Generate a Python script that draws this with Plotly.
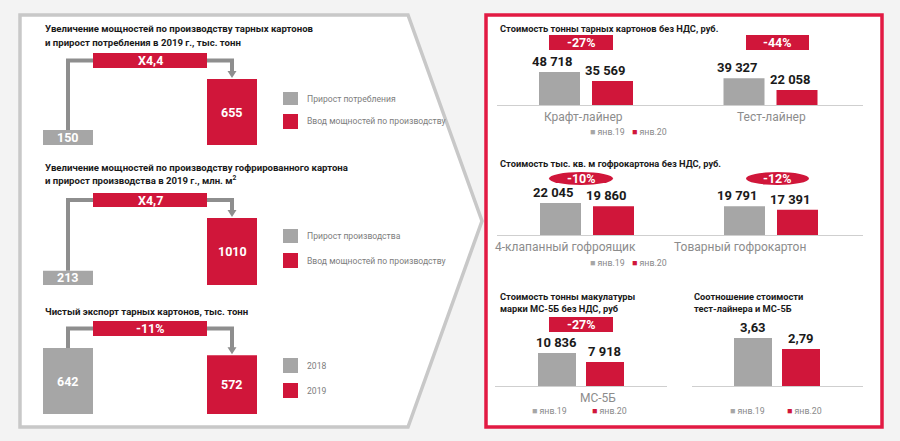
import plotly.graph_objects as go

# ---------------- data ----------------
cap_labels = ["Прирост потребления", "Ввод мощностей по производству"]
cap_vals = [150, 655]
cap_ratio = "X4,4"

corr_labels = ["Прирост производства", "Ввод мощностей по производству"]
corr_vals = [213, 1010]
corr_ratio = "X4,7"

exp_labels = ["2018", "2019"]
exp_vals = [642, 572]
exp_change = "-11%"

periods = ["янв.19", "янв.20"]

board_cats = ["Крафт-лайнер", "Тест-лайнер"]
board_jan19 = [48718, 39327]
board_jan20 = [35569, 22058]
board_change = ["-27%", "-44%"]

box_cats = ["4-клапанный гофроящик", "Товарный гофрокартон"]
box_jan19 = [22045, 19791]
box_jan20 = [19860, 17391]
box_change = ["-10%", "-12%"]

waste_cats = ["МС-5Б"]
waste_jan19 = [10836]
waste_jan20 = [7918]
waste_change = ["-27%"]

ratio_jan19 = [3.63]
ratio_jan20 = [2.79]

# ---------------- helpers ----------------
W, H = 900, 441
def PX(x): return x / W
def PY(y): return 1 - y / H

FONT = "Roboto, Liberation Sans, sans-serif"
GRAY = "#a6a6a6"
RED = "#d0163a"
LINE_GRAY = "#8e8e8e"
TXT = "#1a1a1a"
LEG_TXT = "#7d7d7d"

fig = go.Figure()
shapes = []
annots = []
axes = {}
count = [0]

def fmt(v, sep=" "):
    if isinstance(v, float):
        return f"{v:.2f}".replace(".", ",")
    return f"{v:,}".replace(",", sep)

def new_axes(dx0, dx1, c0, unit, base, top, vmax, baseline=False):
    count[0] += 1
    k = count[0]
    s = "" if k == 1 else str(k)
    axes[f"xaxis{s}"] = dict(domain=[PX(dx0), PX(dx1)],
                            range=[(dx0 - c0) / unit, (dx1 - c0) / unit],
                            anchor=f"y{s}", showgrid=False, zeroline=False,
                            showticklabels=False, ticks="", fixedrange=True,
                            showline=baseline, linecolor="#cfcfcf", linewidth=1,
                            visible=baseline)
    axes[f"yaxis{s}"] = dict(domain=[PY(base), PY(top)], range=[0, vmax],
                            anchor=f"x{s}", visible=False, fixedrange=True)
    return f"x{s}", f"y{s}"

def text(x, y, t, size, color=TXT, bold=False, xanchor="left", yanchor="middle",
         xref="paper", yref="paper", xshift=0, yshift=0):
    annots.append(dict(x=x, y=y, xref=xref, yref=yref, text=t, showarrow=False,
                       xanchor=xanchor, yanchor=yanchor, xshift=xshift, yshift=yshift,
                       font=dict(family=FONT, size=size, color=color,
                                 weight="bold" if bold else "normal")))

def rect(x0, y0, x1, y1, fill, line=None, lw=0, layer="above", kind="rect"):
    shapes.append(dict(type=kind, xref="paper", yref="paper",
                       x0=PX(x0), x1=PX(x1), y0=PY(y0), y1=PY(y1),
                       fillcolor=fill, line=dict(color=line or fill, width=lw),
                       layer=layer))

# ---------------- frames ----------------
poly = [(20, 15), (408, 15), (482, 221), (408, 427), (20, 427)]
path = "M " + " L ".join(f"{PX(x):.5f},{PY(y):.5f}" for x, y in poly) + " Z"
shapes.append(dict(type="path", xref="paper", yref="paper", path=path,
                   fillcolor="white", line=dict(color="#c8c8c8", width=3.5),
                   layer="below"))
rect(486, 15, 882, 427, "white", "#e21a43", 3.5, layer="below")

# ---------------- left panel ----------------
left_specs = [
    dict(titles=["Увеличение мощностей по производству тарных картонов",
                 "и прирост потребления в 2019 г., тыс. тонн"], ty=[28, 42],
         vals=cap_vals, labels=cap_labels, ratio=cap_ratio, box=(53, 68),
         base=145, top=79, leg=[(92, 105), (114, 129)]),
    dict(titles=["Увеличение мощностей по производству гофрированного картона",
                 "и прирост производства в 2019 г., млн. м<sup>2</sup>"], ty=[167, 180],
         vals=corr_vals, labels=corr_labels, ratio=corr_ratio, box=(193, 207),
         base=285, top=218, leg=[(229, 243), (253, 268)]),
    dict(titles=["Чистый экспорт тарных картонов, тыс. тонн"], ty=[311],
         vals=exp_vals, labels=exp_labels, ratio=exp_change, box=(321, 336),
         base=414, top=348, leg=[(358, 373), (383, 398)]),
]

for sp in left_specs:
    for t, y in zip(sp["titles"], sp["ty"]):
        text(PX(43), PY(y), t, 9.6, bold=True)
    vals = sp["vals"]
    vmax = max(vals)
    c0, c1 = 68, 232
    unit = c1 - c0
    xa, ya = new_axes(43, 257, c0, unit, sp["base"], sp["top"], vmax)
    fig.add_trace(go.Bar(x=[0, 1], y=vals, width=50 / unit,
                         marker=dict(color=[GRAY, RED], line=dict(width=0)),
                         xaxis=xa, yaxis=ya, showlegend=False, hoverinfo="skip"))
    for i, v in enumerate(vals):
        text(i, v / 2, fmt(v, ""), 12.5, color="white", bold=True, xanchor="center",
             xref=xa, yref=ya)
    # connector
    scale = (sp["base"] - sp["top"]) / vmax
    gtop = sp["base"] - vals[0] * scale
    rtop = sp["base"] - vals[1] * scale
    b0, b1 = sp["box"]
    cy = (b0 + b1) / 2
    p1 = f"M {PX(68):.5f},{PY(gtop):.5f} L {PX(68):.5f},{PY(cy):.5f} L {PX(95):.5f},{PY(cy):.5f}"
    p2 = f"M {PX(205):.5f},{PY(cy):.5f} L {PX(232):.5f},{PY(cy):.5f} L {PX(232):.5f},{PY(rtop - 7):.5f}"
    for p in (p1, p2):
        shapes.append(dict(type="path", xref="paper", yref="paper", path=p,
                           line=dict(color=LINE_GRAY, width=4), layer="above"))
    tri = (f"M {PX(227.5):.5f},{PY(rtop - 8):.5f} L {PX(236.5):.5f},{PY(rtop - 8):.5f} "
           f"L {PX(232):.5f},{PY(rtop - 1):.5f} Z")
    shapes.append(dict(type="path", xref="paper", yref="paper", path=tri,
                       fillcolor=LINE_GRAY, line=dict(width=0), layer="above"))
    rect(93, b0, 207, b1, RED)
    text(PX(150), PY(cy), sp["ratio"], 12.5, color="white", bold=True, xanchor="center")
    # legend
    for (l0, l1), col, lab in zip(sp["leg"], [GRAY, RED], sp["labels"]):
        rect(283, l0, 298, l1, col)
        text(PX(305), PY((l0 + l1) / 2), lab, 8.6, color=LEG_TXT)

# ---------------- right panel ----------------
def legend_items(y, xs):
    for x, col, lab in zip(xs, [GRAY, RED], periods):
        text(PX(x), PY(y), f"<span style='color:{col}'>■</span> {lab}", 8.8,
             color="#8a8a8a")

right_specs = [
    dict(titles=["Стоимость тонны тарных картонов без НДС, руб."], ty=[28], tx=498,
         cats=board_cats, a=board_jan19, b=board_jan20, change=board_change,
         dom=(497, 863), c=(586, 770.5), base=105, top=72, w=41, og=-47, orr=6,
         catshift=[-3, 1], valshift=-7, leg_y=132, leg_x=[588, 630],
         badges=[(549, 613), (746, 809)], by=(35, 50), oval=False),
    dict(titles=["Стоимость тыс. кв. м гофрокартона без НДС, руб."], ty=[163], tx=498,
         cats=box_cats, a=box_jan19, b=box_jan20, change=box_change,
         dom=(497, 863), c=(587, 771), base=235, top=203, w=41, og=-47, orr=6,
         catshift=[-22, -31], valshift=-7, leg_y=263, leg_x=[588, 630],
         badges=[(549, 613), (746, 809)], by=(172, 185), oval=True),
    dict(titles=["Стоимость тонны макулатуры", "марки МС-5Б без НДС, руб"], ty=[296, 308],
         tx=498, cats=waste_cats, a=waste_jan19, b=waste_jan20, change=waste_change,
         dom=(495, 667), c=(581, 681), base=386, top=353, w=38, og=-43, orr=5,
         catshift=[17], valshift=-1, leg_y=411, leg_x=[530, 590],
         badges=[(549, 613)], by=(317, 332), oval=False),
    dict(titles=["Соотношение стоимости", "тест-лайнера и МС-5Б"], ty=[296, 308],
         tx=692, cats=[], a=ratio_jan19, b=ratio_jan20, change=[],
         dom=(692, 863), c=(777, 877), base=386, top=338, w=38, og=-43, orr=5,
         catshift=[], valshift=0, leg_y=411, leg_x=[728, 785],
         badges=[], by=(0, 0), oval=False),
]

for sp in right_specs:
    for t, y in zip(sp["titles"], sp["ty"]):
        text(PX(sp["tx"]), PY(y), t, 9.3, bold=True)
    c0, c1 = sp["c"]
    unit = c1 - c0
    vmax = max(sp["a"] + sp["b"])
    xa, ya = new_axes(sp["dom"][0], sp["dom"][1], c0, unit, sp["base"], sp["top"],
                      vmax, baseline=True)
    xs = list(range(len(sp["a"])))
    for vals, col, off in [(sp["a"], GRAY, sp["og"]), (sp["b"], RED, sp["orr"])]:
        fig.add_trace(go.Bar(x=xs, y=vals, width=sp["w"] / unit, offset=off / unit,
                             marker=dict(color=col, line=dict(width=0)),
                             xaxis=xa, yaxis=ya, showlegend=False, hoverinfo="skip"))
        for i, v in enumerate(vals):
            text(i + (off + sp["w"] / 2) / unit, v, fmt(v), 13, bold=True,
                 xanchor="center", yanchor="bottom", xref=xa, yref=ya,
                 xshift=sp["valshift"], yshift=1)
    for i, (cat, sh) in enumerate(zip(sp["cats"], sp["catshift"])):
        text(i, 0, cat, 12, color="#8c8c8c", xanchor="center", yanchor="top",
             xref=xa, yref=ya, xshift=sh, yshift=-3)
    for (bx0, bx1), ch in zip(sp["badges"], sp["change"]):
        y0, y1 = sp["by"]
        rect(bx0, y0, bx1, y1, RED, kind="circle" if sp["oval"] else "rect")
        text(PX((bx0 + bx1) / 2), PY((y0 + y1) / 2), ch, 12.5, color="white",
             bold=True, xanchor="center")
    legend_items(sp["leg_y"], sp["leg_x"])

fig.update_layout(width=W, height=H, margin=dict(l=0, r=0, t=0, b=0),
                  paper_bgcolor="#f3f3f3", plot_bgcolor="rgba(0,0,0,0)",
                  barmode="overlay", shapes=shapes, annotations=annots,
                  showlegend=False, **axes)
fig.write_html("out.html", config=dict(displayModeBar=False))
